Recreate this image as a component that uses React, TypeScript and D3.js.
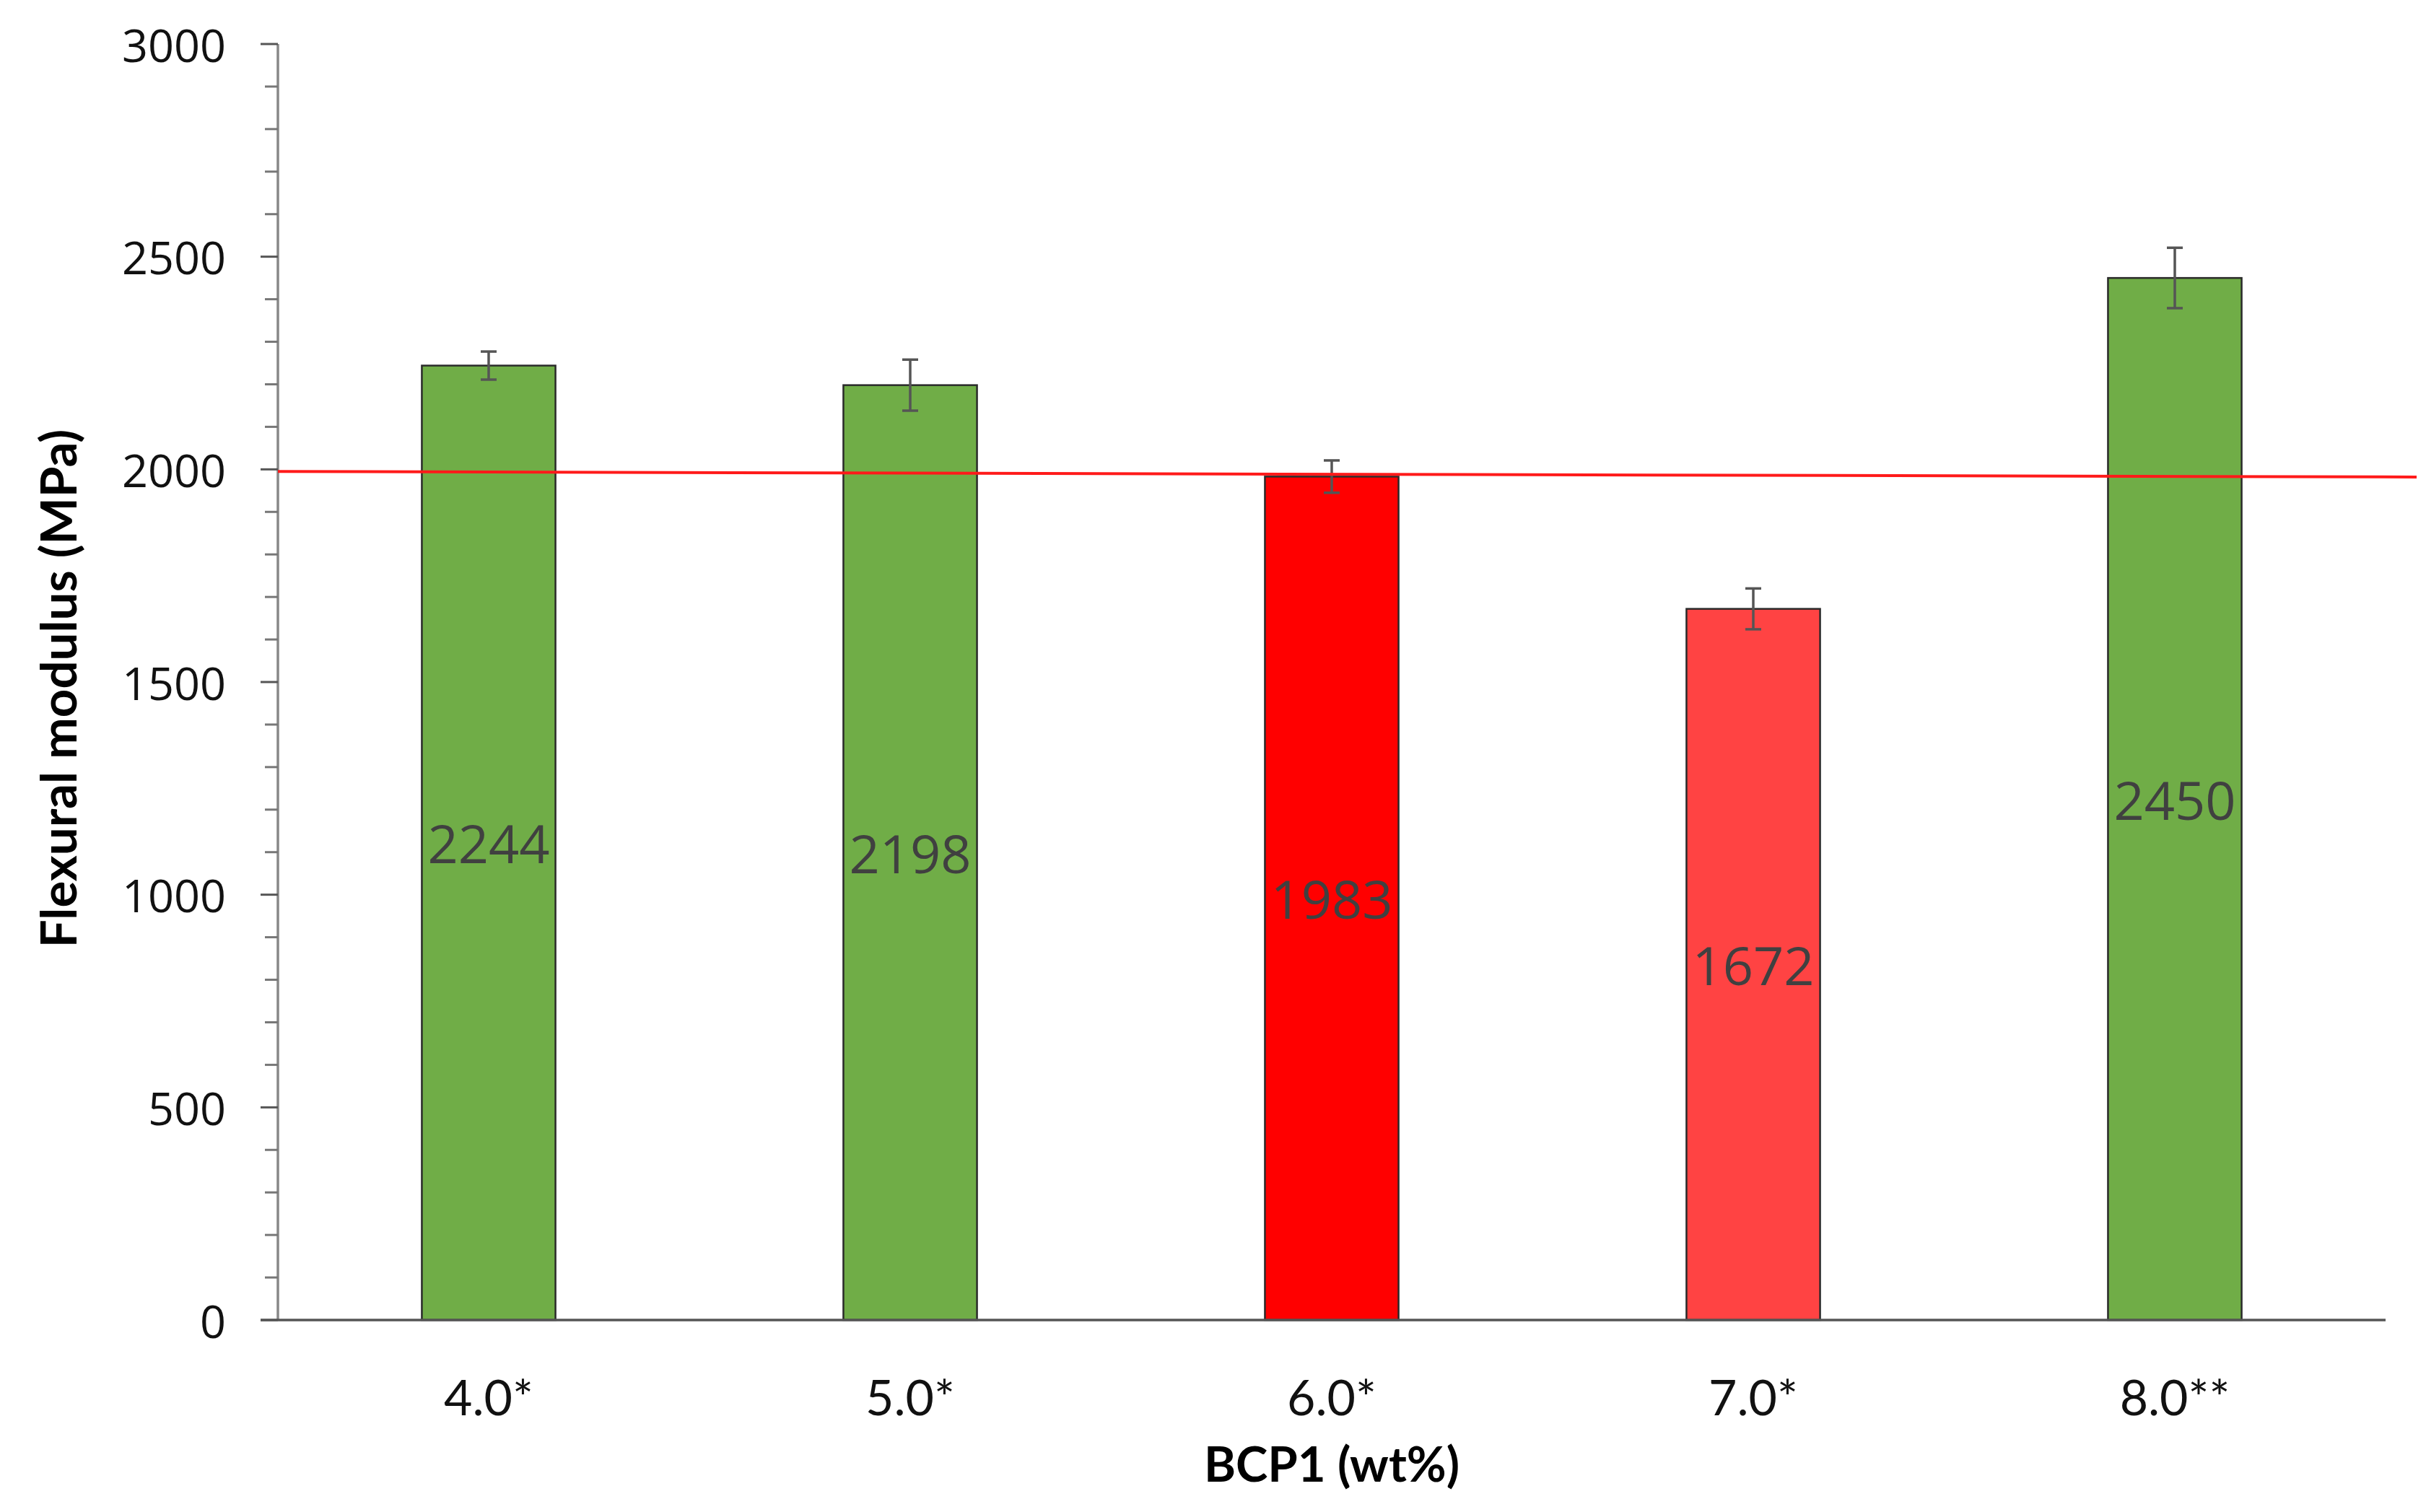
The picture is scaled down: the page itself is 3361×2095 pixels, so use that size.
import React from "react";
import * as d3 from "d3";

const categories = ["4.0*", "5.0*", "6.0*", "7.0*", "8.0**"];
const values = [2244, 2198, 1983, 1672, 2450];
const errors = [33, 60, 38, 48, 71];
const barColors = ["#70AD47", "#70AD47", "#FF0000", "#FF4343", "#70AD47"];
const yTicks = [0, 500, 1000, 1500, 2000, 2500, 3000];
const yMinorTicks = d3.range(0, 3001, 100);
const refLine = [1995, 1982];

const W = 3361;
const H = 2095;
const M = { left: 385, right: 3305, top: 61, bottom: 1829 };

export default function App() {
  const x = d3.scaleBand<string>().domain(categories).range([M.left, M.right]).padding(0);
  const y = d3.scaleLinear().domain([0, 3000]).range([M.bottom, M.top]);
  const barW = x.bandwidth() * 0.317;
  const capW = 22;

  return (
    <svg
      width={W}
      height={H}
      viewBox={`0 0 ${W} ${H}`}
      style={{ position: "absolute", left: 0, top: 0, display: "block", background: "#fff" }}
    >
      <rect x={0} y={0} width={W} height={H} fill="#fff" />
      {/* bars */}
      {categories.map((c, i) => {
        const cx = (x(c) as number) + x.bandwidth() / 2;
        return (
          <rect
            key={"b" + c}
            x={cx - barW / 2}
            y={y(values[i])}
            width={barW}
            height={y(0) - y(values[i])}
            fill={barColors[i]}
            stroke="#2a2a2a"
            strokeWidth={2.5}
          />
        );
      })}
      {/* data labels */}
      {categories.map((c, i) => {
        const cx = (x(c) as number) + x.bandwidth() / 2;
        return (
          <text
            key={"l" + c}
            x={cx}
            y={(y(values[i]) + y(0)) / 2}
            textAnchor="middle"
            dominantBaseline="central"
            fontFamily="'Open Sans', sans-serif"
            fontSize={74}
            fill="#404040"
          >
            {values[i]}
          </text>
        );
      })}
      {/* y axis */}
      <line x1={M.left} x2={M.left} y1={y(3000)} y2={y(0)} stroke="#888" strokeWidth={3.5} />
      {yMinorTicks.map((t) => (
        <line
          key={"m" + t}
          x1={t % 500 === 0 ? M.left - 24 : M.left - 18}
          x2={M.left}
          y1={y(t)}
          y2={y(t)}
          stroke={t % 500 === 0 ? "#555" : "#777"}
          strokeWidth={3}
        />
      ))}
      {yTicks.map((t) => (
        <text
          key={"t" + t}
          x={313}
          y={y(t)}
          textAnchor="end"
          dominantBaseline="central"
          fontFamily="'Open Sans', sans-serif"
          fontSize={63}
          fill="#111"
        >
          {t}
        </text>
      ))}
      {/* x axis */}
      <line x1={M.left - 24} x2={M.right} y1={y(0)} y2={y(0)} stroke="#555" strokeWidth={3.5} />
      {categories.map((c) => (
        <text
          key={"x" + c}
          x={(x(c) as number) + x.bandwidth() / 2}
          y={1961}
          textAnchor="middle"
          fontFamily="Lato, sans-serif"
          fontSize={68}
          fill="#111"
        >
          {c}
        </text>
      ))}
      {/* error bars */}
      {categories.map((c, i) => {
        const cx = (x(c) as number) + x.bandwidth() / 2;
        const yt = y(values[i] + errors[i]);
        const yb = y(values[i] - errors[i]);
        return (
          <g key={"e" + c} stroke="#555" strokeWidth={3.5}>
            <line x1={cx} x2={cx} y1={yt} y2={yb} />
            <line x1={cx - capW / 2} x2={cx + capW / 2} y1={yt} y2={yt} />
            <line x1={cx - capW / 2} x2={cx + capW / 2} y1={yb} y2={yb} />
          </g>
        );
      })}
      {/* reference line */}
      <line
        x1={M.left}
        x2={3348}
        y1={y(refLine[0])}
        y2={y(refLine[1])}
        stroke="#FF1A1A"
        strokeWidth={4}
      />
      {/* axis titles */}
      <text
        transform={`translate(79, ${(590 + 1318) / 2}) rotate(-90)`}
        textAnchor="middle"
        dominantBaseline="central"
        fontFamily="Lato, sans-serif"
        fontWeight="bold"
        fontSize={69}
        fill="#000"
      >
        Flexural modulus (MPa)
      </text>
      <text
        x={1845}
        y={2053}
        textAnchor="middle"
        fontFamily="Lato, sans-serif"
        fontWeight="bold"
        fontSize={67}
        fill="#000"
      >
        BCP1 (wt%)
      </text>
    </svg>
  );
}
